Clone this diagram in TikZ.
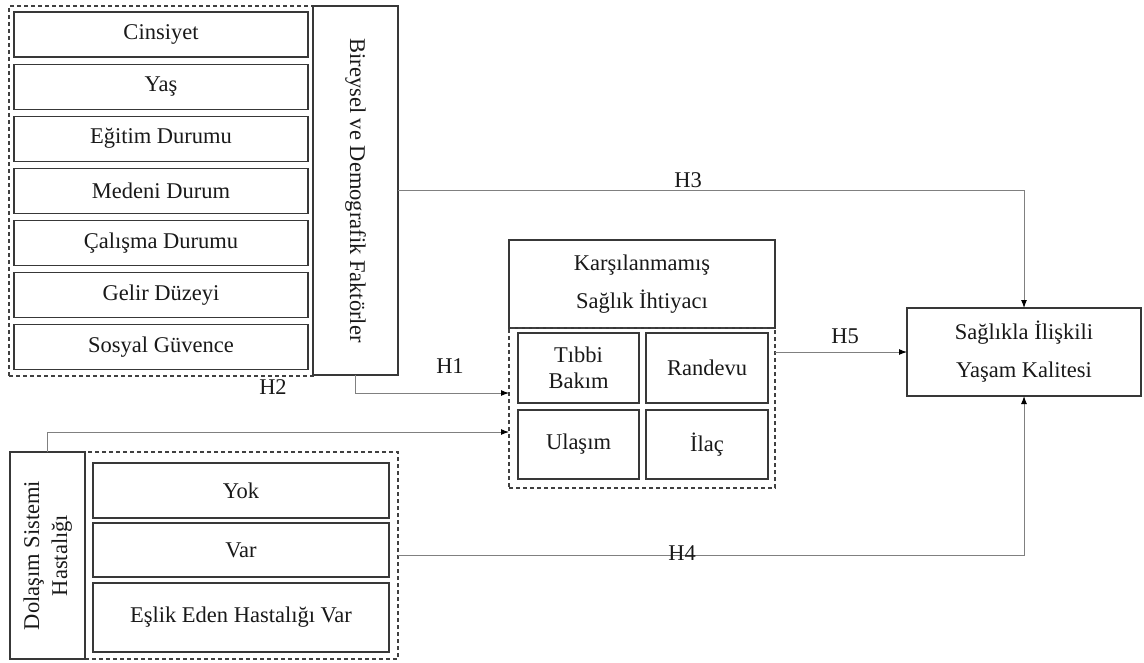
\documentclass[tikz,border=0pt]{standalone}
\usepackage{fontspec}
\setmainfont{Liberation Serif}
\usetikzlibrary{arrows.meta}

\begin{document}
\begin{tikzpicture}[x=1pt,y=-1pt,
  every node/.style={inner sep=0pt, outer sep=0pt, align=center,
    font=\fontsize{22.5}{27}\selectfont, text=black!90},
  box/.style={draw=black!78, line width=1.2pt},
  group/.style={draw=black!75, line width=1.1pt, dashed, dash pattern=on 4pt off 3pt},
  link/.style={draw=black!50, line width=1pt, -{Latex[length=8pt,width=6pt,black]}},
  hyp/.style={font=\fontsize{22.5}{27}\selectfont}
]
\useasboundingbox (0,0) rectangle (1144,662);

% individual and demographic factors
\node[group, minimum width=304, minimum height=370] (g1) at (161,191) {};
\foreach \t [count=\i from 0] in {Cinsiyet, Yaş, Eğitim Durumu, Medeni Durum,
    Çalışma Durumu, Gelir Düzeyi, Sosyal Güvence}
  \node[box, minimum width=294, minimum height=45] (f\i) at (161,{34.5+52.1*\i}) {\t};
\node[box, fill=white, minimum width=85, minimum height=369] (bir) at (355.5,190.5)
  {\rotatebox{-90}{Bireysel ve Demografik Faktörler}};

% unmet health need
\node[box, minimum width=266, minimum height=88,
  font=\fontsize{22.5}{38}\selectfont] (kar) at (642,284)
  {Karşılanmamış\\Sağlık İhtiyacı};
\node[group, minimum width=266, minimum height=160] (g2) at (642,408) {};
\node[box, minimum width=121, minimum height=70,
  font=\fontsize{22.5}{26}\selectfont] (tib) at (578.5,368) {Tıbbi\\Bakım};
\node[box, minimum width=122, minimum height=70] (ran) at (707,368) {Randevu};
\node[box, minimum width=121, minimum height=69] (ula) at (578.5,444.5) {Ulaşım};
\node[box, minimum width=122, minimum height=69] (ila) at (707,444.5) {İlaç};

% outcome
\node[box, minimum width=234, minimum height=88,
  font=\fontsize{22.5}{38}\selectfont] (sag) at (1024,352)
  {Sağlıkla İlişkili\\Yaşam Kalitesi};

% circulatory system disease
\node[group, minimum width=313, minimum height=207] (g3) at (241.5,555.5) {};
\node[box, fill=white, minimum width=75, minimum height=207,
  font=\fontsize{22.5}{28}\selectfont] (dol) at (47.5,555.5)
  {\rotatebox{90}{\begin{tabular}{@{}c@{}}Dolaşım Sistemi\\Hastalığı\end{tabular}}};
\node[box, minimum width=296, minimum height=55] (yok) at (241,490.5) {Yok};
\node[box, minimum width=296, minimum height=54] (var) at (241,550) {Var};
\node[box, minimum width=296, minimum height=69] (esl) at (241,617.5) {Eşlik Eden Hastalığı Var};

% hypothesised paths
\draw[link] (bir.east) -| (sag.north);
\draw[link] (bir.south) |- ([yshift=15pt]g2.west);
\draw[link] (dol.north) |- ([yshift=-24pt]g2.west);
\draw[link] (g3.east) -| (sag.south);
\draw[link] (g2.east |- sag.west) -- (sag.west);

\node[hyp] (h1) at (450,366) {H1};
\node[hyp] (h2) at (273,387) {H2};
\node[hyp] (h3) at (688,180) {H3};
\node[hyp] (h4) at (682,553) {H4};
\node[hyp] (h5) at (845,336) {H5};
\end{tikzpicture}
\end{document}
